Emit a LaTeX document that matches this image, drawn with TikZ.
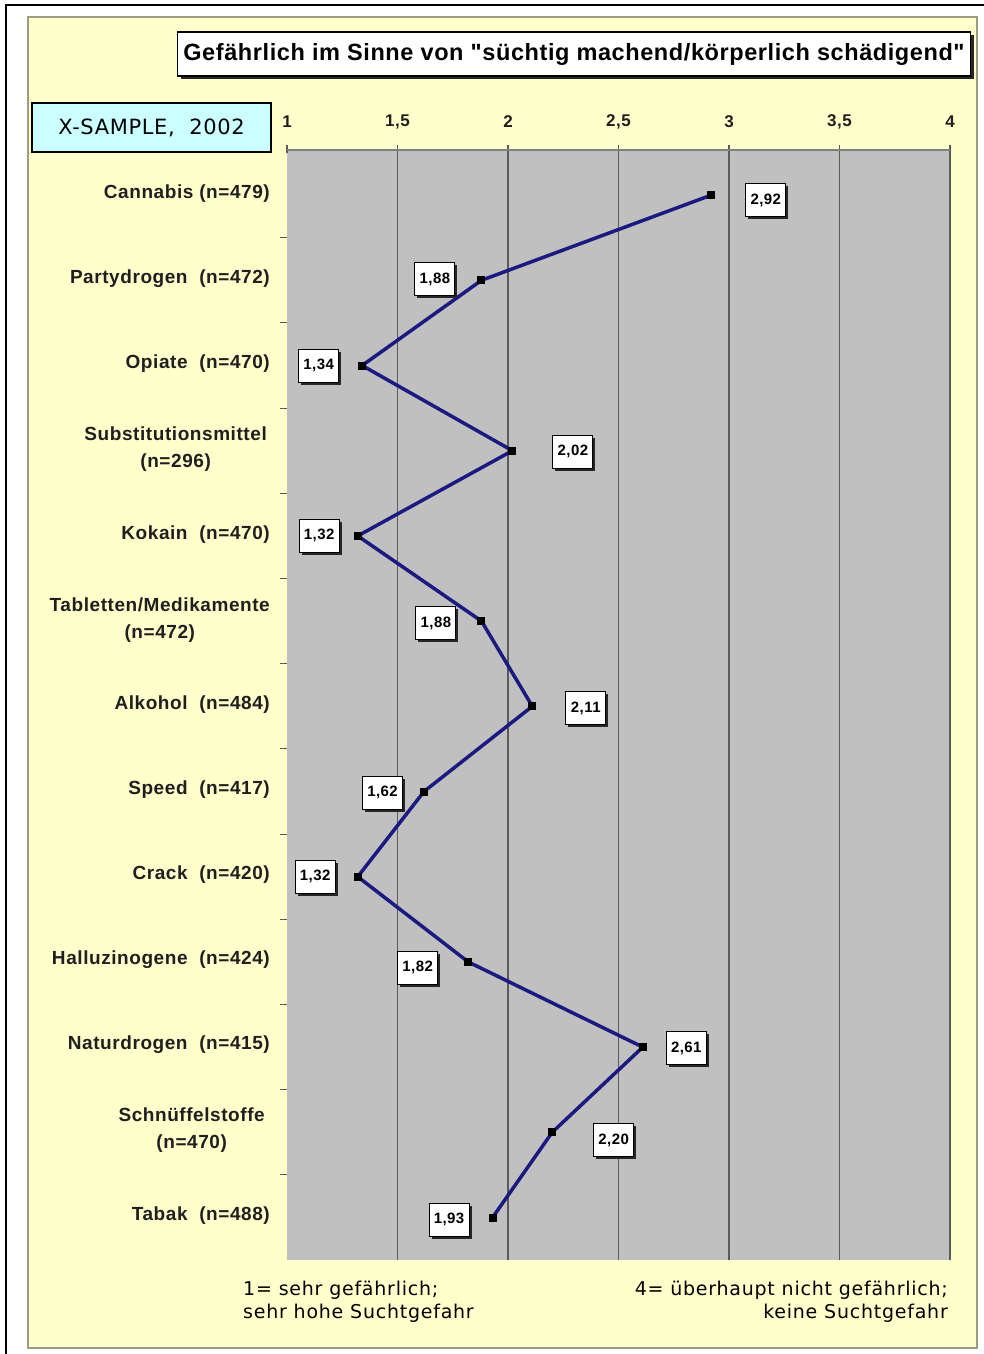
\documentclass[tikz,border=0pt]{standalone}
\usepackage{fontspec}
\usetikzlibrary{positioning, shadows}
\newfontfamily\catfont{Liberation Sans}[LetterSpace=3.0]
\newfontfamily\titlefont{Liberation Sans}[LetterSpace=2.5]
\newfontfamily\notefont{DejaVu Sans}[LetterSpace=4.0]
\newfontfamily\samplefont{DejaVu Sans}[LetterSpace=3.0]
\definecolor{panelyellow}{HTML}{FFFFCC}
\definecolor{panelframe}{HTML}{9C9C84}
\definecolor{plotgrey}{HTML}{C0C0C0}
\definecolor{gridgrey}{HTML}{5A5A5A}
\definecolor{linenavy}{HTML}{1A1A80}
\definecolor{samplecyan}{HTML}{CCFFFF}

\begin{document}
\begin{tikzpicture}[x=1pt, y=-1pt,
  catlabel/.style={anchor=east, align=center, inner sep=0pt, text=black!88, font=\catfont\bfseries\fontsize{19}{27}\selectfont},
  ticklabel/.style={inner sep=0pt, text=black!88, font=\catfont\bfseries\fontsize{17}{19}\selectfont},
  valbox/.style={draw, fill=white, line width=1pt, minimum width=40pt, minimum height=33pt, inner sep=0pt, font=\catfont\bfseries\fontsize{15}{17}\selectfont, drop shadow={shadow xshift=2.5pt, shadow yshift=-2.5pt, opacity=1, fill=black!85}},
  titlebox/.style={draw, fill=white, line width=1.2pt, minimum width=793pt, minimum height=44pt, inner sep=0pt, font=\titlefont\bfseries\fontsize{23.5}{26}\selectfont, drop shadow={shadow xshift=3pt, shadow yshift=-3pt, opacity=1, fill=black!85}},
  samplebox/.style={draw, fill=samplecyan, line width=1.2pt, minimum width=239pt, minimum height=49pt, inner sep=0pt, font=\samplefont\fontsize{21}{24}\selectfont},
  note/.style={inner sep=0pt, font=\notefont\fontsize{19}{22.7}\selectfont},
  gridline/.style={draw=gridgrey, line width=1.5pt},
  dataline/.style={draw=linenavy, line width=3.5pt, line join=round},
  datapoint/.style={fill=black, minimum size=8pt, inner sep=0pt}]
\useasboundingbox (0,0) rectangle (984,1354);
% frame and panel
\draw[line width=1.5pt] (6,5) rectangle (1000,1370);
\draw[panelframe, line width=2.5pt, fill=panelyellow] (28,17) rectangle (977,1348);
% title and sample
\node[titlebox] (title) at (574,54) {Gefährlich im Sinne von "süchtig machend/körperlich schädigend"};
\node[samplebox] (sample) at (151.5,127.5) {X-SAMPLE,~ 2002};
% plot area
\fill[plotgrey] (287,150) rectangle (950,1260);
\draw[gridline] (287,145) -- (287,153);
\foreach \v in {1.5,2,2.5,3,3.5,4}
  \draw[gridline] ({287+221*(\v-1)},145) -- ({287+221*(\v-1)},1260);
\draw[gridline, line width=2pt, draw=gray] (287,150) -- (950,150);
\foreach \k in {1,...,12}
  \draw[gridline, line width=1pt] (280,{152.5+85.2*\k}) -- (287,{152.5+85.2*\k});
\foreach \v/\t [count=\i] in {1/1, 1.5/{1,5}, 2/2, 2.5/{2,5}, 3/3, 3.5/{3,5}, 4/4}
  \node[ticklabel] (tick\i) at ({287+221*(\v-1)},122) {\t};
% categories
\node[catlabel] (c1) at (270,194) {Cannabis (n=479)};
\node[catlabel] (c2) at (270,279) {Partydrogen~ (n=472)};
\node[catlabel] (c3) at (270,364) {Opiate~ (n=470)};
\node[catlabel] (c4) at (267,449) {Substitutionsmittel\\(n=296)};
\node[catlabel] (c5) at (270,535) {Kokain~ (n=470)};
\node[catlabel] (c6) at (270,620) {Tabletten/Medikamente\\(n=472)};
\node[catlabel] (c7) at (270,705) {Alkohol~ (n=484)};
\node[catlabel] (c8) at (270,790) {Speed~ (n=417)};
\node[catlabel] (c9) at (270,875) {Crack~ (n=420)};
\node[catlabel] (c10) at (270,960) {Halluzinogene~ (n=424)};
\node[catlabel] (c11) at (270,1045) {Naturdrogen~ (n=415)};
\node[catlabel] (c12) at (265,1130) {Schnüffelstoffe\\(n=470)};
\node[catlabel] (c13) at (270,1216) {Tabak~ (n=488)};
% data
\foreach \v [count=\i] in {2.92,1.88,1.34,2.02,1.32,1.88,2.11,1.62,1.32,1.82,2.61,2.20,1.93}
  \coordinate (p\i) at ({287+221*(\v-1)},{152.5+85.2*(\i-0.5)});
\draw[dataline] (p1) -- (p2) -- (p3) -- (p4) -- (p5) -- (p6) -- (p7) -- (p8) -- (p9) -- (p10) -- (p11) -- (p12) -- (p13);
\foreach \i in {1,...,13}
  \node[datapoint] (m\i) at (p\i) {};
\node[valbox, right=34pt of p1, yshift=-5pt] (v1) {2,92};
\node[valbox, left=26pt of p2, yshift=1pt] (v2) {1,88};
\node[valbox, left=23pt of p3] (v3) {1,34};
\node[valbox, right=40pt of p4, yshift=-1pt] (v4) {2,02};
\node[valbox, left=18pt of p5] (v5) {1,32};
\node[valbox, left=25pt of p6, yshift=-2pt] (v6) {1,88};
\node[valbox, right=33pt of p7, yshift=-2pt] (v7) {2,11};
\node[valbox, left=21pt of p8, yshift=-1pt] (v8) {1,62};
\node[valbox, left=22pt of p9] (v9) {1,32};
\node[valbox, left=30pt of p10, yshift=-6pt] (v10) {1,82};
\node[valbox, right=23pt of p11, yshift=-1pt] (v11) {2,61};
\node[valbox, right=41pt of p12, yshift=-8pt] (v12) {2,20};
\node[valbox, left=23pt of p13, yshift=-2pt] (v13) {1,93};
% scale notes
\node[note, anchor=north west, align=left] (lownote) at (243,1281) {1= sehr gefährlich;\\sehr hohe Suchtgefahr};
\node[note, anchor=north east, align=right] (highnote) at (948,1281) {4= überhaupt nicht gefährlich;\\keine Suchtgefahr};
\end{tikzpicture}
\end{document}
